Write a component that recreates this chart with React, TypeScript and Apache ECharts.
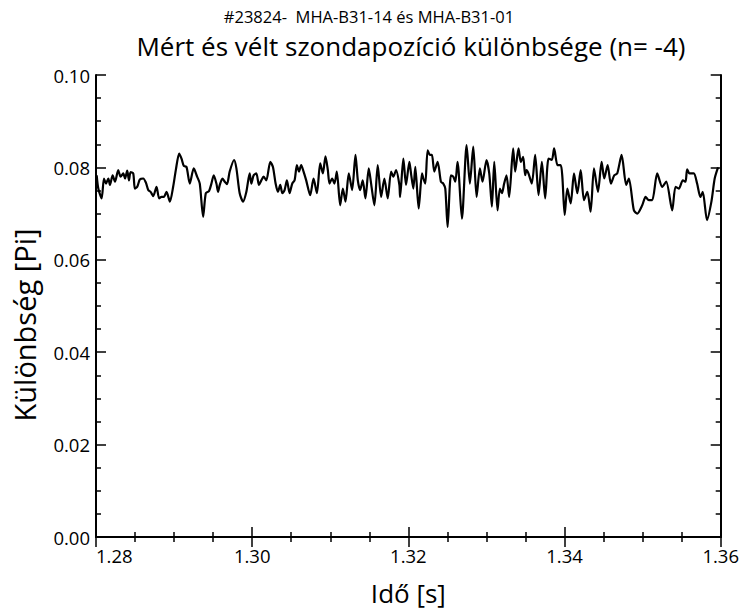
import React, { useEffect, useRef } from "react";
import * as echarts from "echarts";

const supTitle = "#23824-  MHA-B31-14 és MHA-B31-01";
const mainTitle = "Mért és vélt szondapozíció különbsége (n= -4)";
const xName = "Idő [s]";
const yName = "Különbség [Pi]";

const times: number[] = [
  1.28009, 1.2803, 1.28072, 1.28102, 1.28128, 1.28158, 1.28179, 1.28213, 1.28243, 1.28285,
  1.28315, 1.28349, 1.28371, 1.284, 1.28422, 1.28443, 1.28477, 1.28498, 1.28528, 1.28562,
  1.28605, 1.28639, 1.28669, 1.28699, 1.28733, 1.28775, 1.28809, 1.28839, 1.28869, 1.28903,
  1.28946, 1.28988, 1.29022, 1.29065, 1.29095, 1.29125, 1.29159, 1.29201, 1.29252, 1.29295,
  1.29329, 1.29372, 1.29406, 1.29448, 1.29478, 1.29508, 1.29542, 1.29563, 1.29585, 1.29619,
  1.29649, 1.29678, 1.29712, 1.29768, 1.29798, 1.2984, 1.29883, 1.29925, 1.29968,
  1.29989, 1.30019, 1.30053, 1.30087, 1.30117, 1.30147, 1.30181, 1.30232, 1.30266, 1.303,
  1.3033, 1.3036, 1.30386, 1.30415, 1.30445, 1.30479, 1.30513, 1.30543, 1.30573, 1.30599,
  1.30628, 1.30658, 1.30692, 1.30743, 1.30786, 1.30829, 1.30871, 1.30905, 1.30939, 1.30969,
  1.3099, 1.31024, 1.31054, 1.31084, 1.31127, 1.31161, 1.31195, 1.31237, 1.3128, 1.31323,
  1.31353, 1.31382, 1.31416, 1.3145, 1.31493, 1.31523, 1.31565, 1.31608, 1.31651, 1.31693,
  1.31736, 1.31779, 1.31808, 1.31842, 1.31885,
  1.31894, 1.31936, 1.3197, 1.32013, 1.32034, 1.32064, 1.32089, 1.32132, 1.32175, 1.32192,
  1.32217, 1.32247, 1.32277, 1.32302, 1.32332, 1.32375, 1.32417, 1.32447, 1.32473, 1.32503,
  1.32545, 1.32575, 1.32601, 1.3263, 1.32686, 1.32746, 1.32788, 1.32831, 1.32874, 1.32916,
  1.3295, 1.33001, 1.33036, 1.3307, 1.331, 1.33142, 1.33172, 1.33198, 1.33227, 1.33257,
  1.33291, 1.33342, 1.33368, 1.33411, 1.3344, 1.3347, 1.33496, 1.33513, 1.33538, 1.33581,
  1.33624, 1.33667, 1.3371, 1.33752, 1.33795, 1.33837, 1.33867, 1.3391,
  1.33951, 1.33972, 1.34002, 1.34036, 1.34079, 1.34121, 1.34164, 1.34207, 1.34249, 1.34292,
  1.34334, 1.34377, 1.34428, 1.34475, 1.34509, 1.34552, 1.34594, 1.34637, 1.34675, 1.34731,
  1.3479, 1.34824, 1.34888, 1.34931, 1.34995, 1.35038, 1.3508, 1.35123, 1.35187, 1.35251,
  1.35302, 1.35379, 1.35421, 1.35464, 1.35515, 1.35549, 1.3557, 1.356, 1.35655, 1.35698,
  1.3574, 1.3577, 1.35825, 1.35881, 1.35923, 1.35966,
];

const diffs: number[] = [
  0.0783, 0.0754, 0.0733, 0.0776, 0.0765, 0.0776, 0.0762, 0.0783, 0.0769, 0.0794,
  0.078, 0.0787, 0.0776, 0.0793, 0.0772, 0.079, 0.0787, 0.0754, 0.0758, 0.0774,
  0.0776, 0.0767, 0.0751, 0.0747, 0.0738, 0.0758, 0.0733, 0.0736, 0.0736, 0.0747,
  0.0726, 0.0758, 0.0794, 0.083, 0.0819, 0.0803, 0.0801, 0.0765, 0.0798, 0.078,
  0.0765, 0.0693, 0.0744, 0.0749, 0.0765, 0.0783, 0.0765, 0.0747, 0.0762, 0.0776,
  0.0769, 0.0764, 0.0791, 0.0816, 0.0798, 0.0744, 0.0726, 0.0747, 0.0787,
  0.0765, 0.0783, 0.0787, 0.0762, 0.0772, 0.078, 0.0772, 0.0812, 0.0801, 0.0765,
  0.0747, 0.0762, 0.0744, 0.0751, 0.0772, 0.0744, 0.0765, 0.0772, 0.0805, 0.0791,
  0.0805, 0.0791, 0.0772, 0.074, 0.0776, 0.0744, 0.0809, 0.0787, 0.0824, 0.0794,
  0.0765, 0.0776, 0.0765, 0.0791, 0.0718, 0.0754, 0.0726, 0.0787, 0.0751, 0.0827,
  0.0772, 0.0751, 0.0772, 0.0733, 0.0798, 0.0765, 0.0718, 0.0805, 0.0736, 0.0776,
  0.0733, 0.0791, 0.078, 0.0794, 0.0762,
  0.0736, 0.0819, 0.0762, 0.0812, 0.0787, 0.0754, 0.0801, 0.0711, 0.0787, 0.0776,
  0.0765, 0.0837, 0.0827, 0.0827, 0.0791, 0.0812, 0.0769, 0.0765, 0.0754, 0.0671,
  0.0783, 0.078, 0.0769, 0.0812, 0.0689, 0.0848, 0.0765, 0.0845, 0.0736, 0.0798,
  0.0769, 0.0816, 0.0787, 0.0715, 0.0812, 0.0707, 0.0754, 0.0744, 0.0765, 0.0783,
  0.0736, 0.0841, 0.0791, 0.0841, 0.0812, 0.0823, 0.0783, 0.0794, 0.0787, 0.0765,
  0.0827, 0.074, 0.0812, 0.0733, 0.0819, 0.0816, 0.0841, 0.0805,
  0.0805, 0.078, 0.0697, 0.0754, 0.0722, 0.0787, 0.0744, 0.0794, 0.0729, 0.0747,
  0.0704, 0.0798, 0.0747, 0.0812, 0.0776, 0.0805, 0.0765, 0.0783, 0.0787, 0.0827,
  0.0762, 0.0776, 0.0707, 0.07, 0.0718, 0.0736, 0.0729, 0.0729, 0.0787, 0.0758,
  0.0769, 0.0707, 0.0758, 0.0754, 0.0772, 0.0769, 0.0796, 0.0787, 0.0787, 0.0765,
  0.0736, 0.0747, 0.0686, 0.0726, 0.0776, 0.08,
];

const xTicks = { min: 1.28, max: 1.36, interval: 0.02 };
const yTicks = { min: 0, max: 0.1, interval: 0.02 };

const FONT = "Open Sans";

export default function App() {
  const ref = useRef<HTMLDivElement>(null);
  useEffect(() => {
    document.body.style.margin = "0";
    if (!ref.current) return;
    const chart = echarts.init(ref.current, undefined, { renderer: "svg" });
    const axisLine = { show: true, lineStyle: { color: "#000", width: 2 } };
    const tick = { show: true, inside: true, length: 10, lineStyle: { color: "#000", width: 1.5 } };
    const minor = { show: true, splitNumber: 4, length: 5, lineStyle: { color: "#000", width: 1.5 } };
    const data = times.map((t, i) => [t, diffs[i]]);
    chart.setOption({
      animation: false,
      backgroundColor: "#fff",
      title: [
        {
          text: supTitle,
          left: 364,
          top: 3,
          textAlign: "center",
          textStyle: { fontFamily: FONT, fontSize: 16.5, fontWeight: "normal", color: "#000" },
        },
        {
          text: mainTitle,
          left: 406,
          top: 28,
          textAlign: "center",
          textStyle: { fontFamily: FONT, fontSize: 26, fontWeight: "normal", color: "#000" },
        },
      ],
      grid: { left: 96, right: 20, top: 75, bottom: 78, containLabel: false },
      xAxis: [
        {
          type: "value",
          ...xTicks,
          name: xName,
          nameLocation: "middle",
          nameGap: 43,
          nameTextStyle: { fontFamily: FONT, fontSize: 26, color: "#000" },
          axisLine,
          axisTick: tick,
          minorTick: minor,
          splitLine: { show: false },
          axisLabel: {
            fontFamily: FONT,
            fontSize: 18.5,
            color: "#000",
            margin: 9,
            alignMinLabel: "left",
            formatter: (v: number) => v.toFixed(2),
          },
        },
        {
          type: "value",
          position: "top",
          ...xTicks,
          axisLine,
          axisTick: tick,
          minorTick: minor,
          splitLine: { show: false },
          axisLabel: { show: false },
        },
      ],
      yAxis: [
        {
          type: "value",
          ...yTicks,
          name: yName,
          nameLocation: "middle",
          nameGap: 57,
          nameTextStyle: { fontFamily: FONT, fontSize: 29, color: "#000", padding: [0, 38, 0, 0] },
          axisLine,
          axisTick: tick,
          minorTick: minor,
          splitLine: { show: false },
          axisLabel: {
            fontFamily: FONT,
            fontSize: 18.5,
            color: "#000",
            margin: 6,
            formatter: (v: number) => v.toFixed(2),
          },
        },
        {
          type: "value",
          position: "right",
          ...yTicks,
          axisLine,
          axisTick: tick,
          minorTick: minor,
          splitLine: { show: false },
          axisLabel: { show: false },
        },
      ],
      series: [
        {
          type: "line",
          data,
          showSymbol: false,
          smooth: 0.25,
          lineStyle: { color: "#000", width: 2.2 },
          clip: true,
        },
      ],
    });
    return () => chart.dispose();
  }, []);
  return <div ref={ref} style={{ width: 742, height: 615 }} />;
}
